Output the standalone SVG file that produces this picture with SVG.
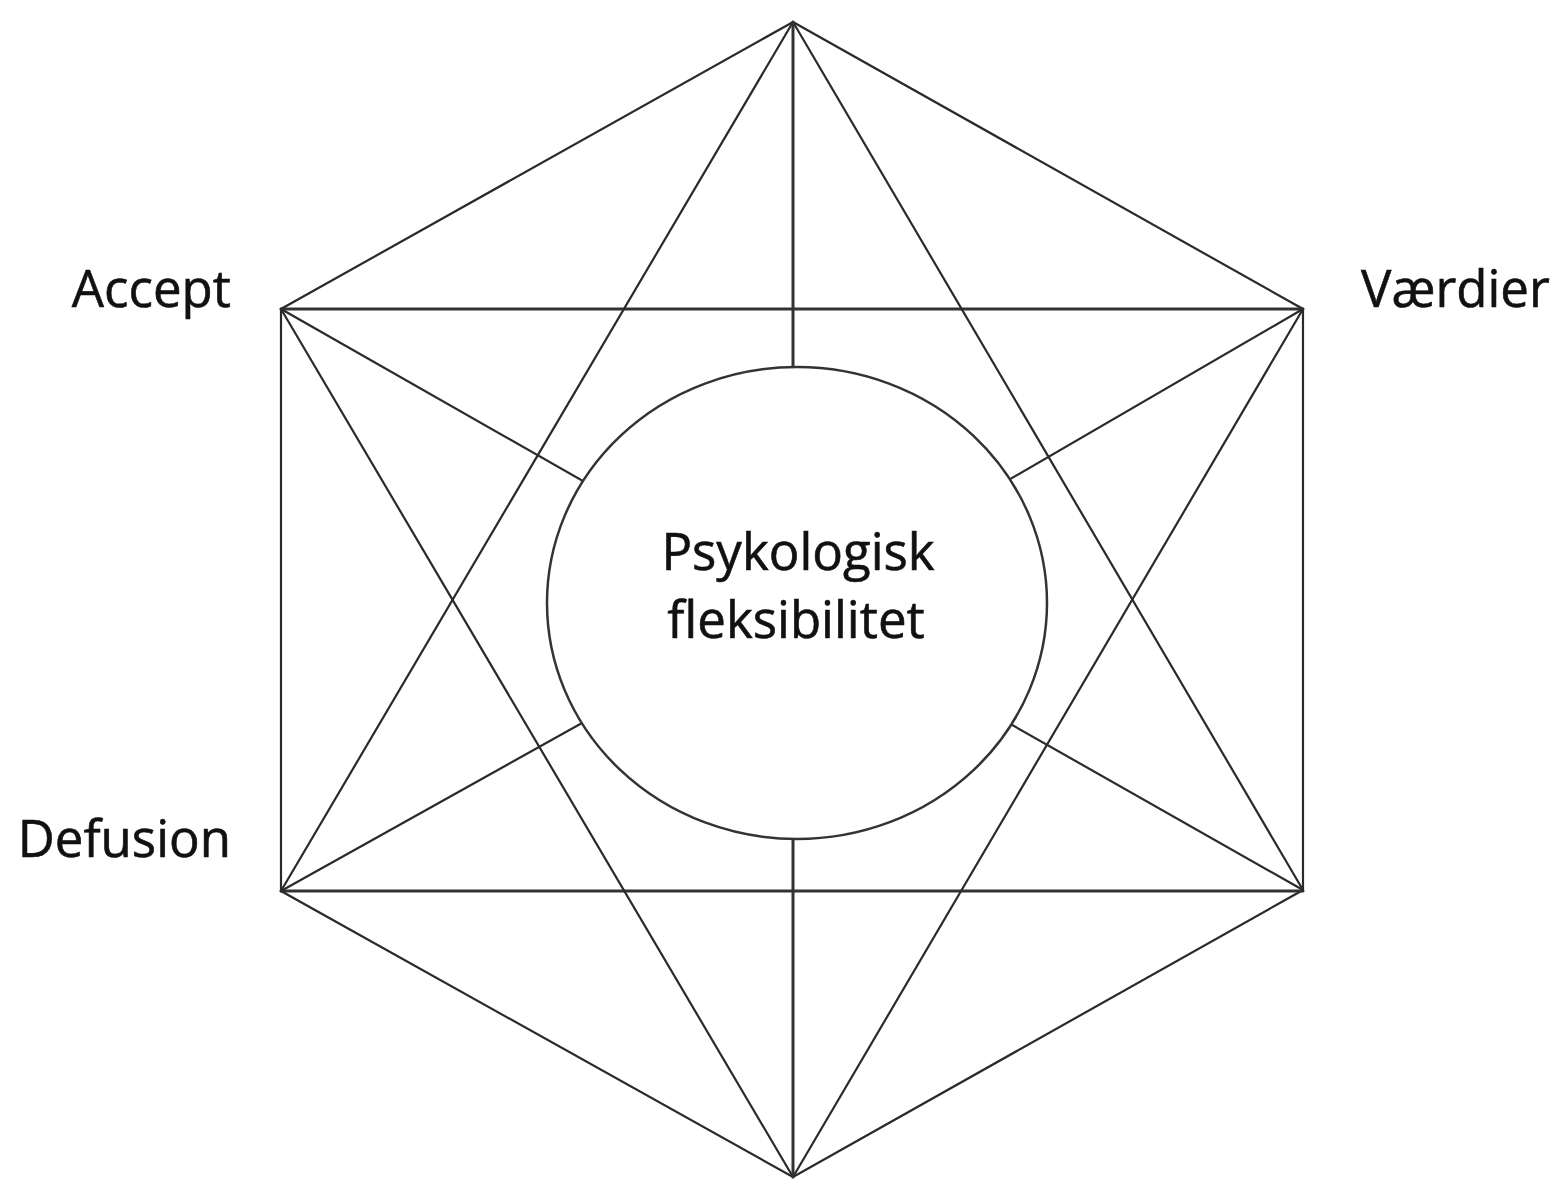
<svg xmlns="http://www.w3.org/2000/svg" width="1565" height="1180" viewBox="0 0 1565 1180">
<style>
.ln{stroke:#2a2a2a;stroke-width:2.2;fill:none;stroke-linecap:round}
.thk{stroke:#333;stroke-width:3}
.lbl{font-family:"Open Sans","Liberation Sans",sans-serif;font-size:51px;font-weight:500;fill:#111;stroke:#111;stroke-width:0.6}
.circ{fill:#fff;stroke:#333;stroke-width:2.5}
</style>
<rect width="1565" height="1180" fill="#fff"/>
<g id="connectors">
<polygon class="ln" points="793,22 1303,309 1303,890 793,1177 281,891 281,309"/>
<line class="ln thk" x1="281" y1="309" x2="1303" y2="309"/>
<line class="ln thk" x1="281" y1="891" x2="1303" y2="891"/>
<line class="ln" x1="793" y1="22" x2="281" y2="891"/>
<line class="ln" x1="793" y1="22" x2="1303" y2="890"/>
<line class="ln" x1="793" y1="1177" x2="281" y2="309"/>
<line class="ln" x1="793" y1="1177" x2="1303" y2="309"/>
<line class="ln thk" x1="793" y1="22" x2="793" y2="1177"/>
<line class="ln" x1="281" y1="309" x2="797" y2="603"/>
<line class="ln" x1="1303" y1="309" x2="797" y2="603"/>
<line class="ln" x1="281" y1="891" x2="797" y2="603"/>
<line class="ln" x1="1303" y1="890" x2="797" y2="603"/>
</g>
<g id="center">
<ellipse class="circ" cx="797" cy="603" rx="250" ry="236"/>
<text class="lbl" x="798" y="570" text-anchor="middle">Psykologisk</text>
<text class="lbl" x="796" y="638" text-anchor="middle">fleksibilitet</text>
</g>
<g id="accept"><text class="lbl" x="231" y="307" text-anchor="end">Accept</text></g>
<g id="vaerdier"><text class="lbl" x="1361" y="307">Værdier</text></g>
<g id="defusion"><text class="lbl" x="231" y="857" text-anchor="end">Defusion</text></g>
</svg>
